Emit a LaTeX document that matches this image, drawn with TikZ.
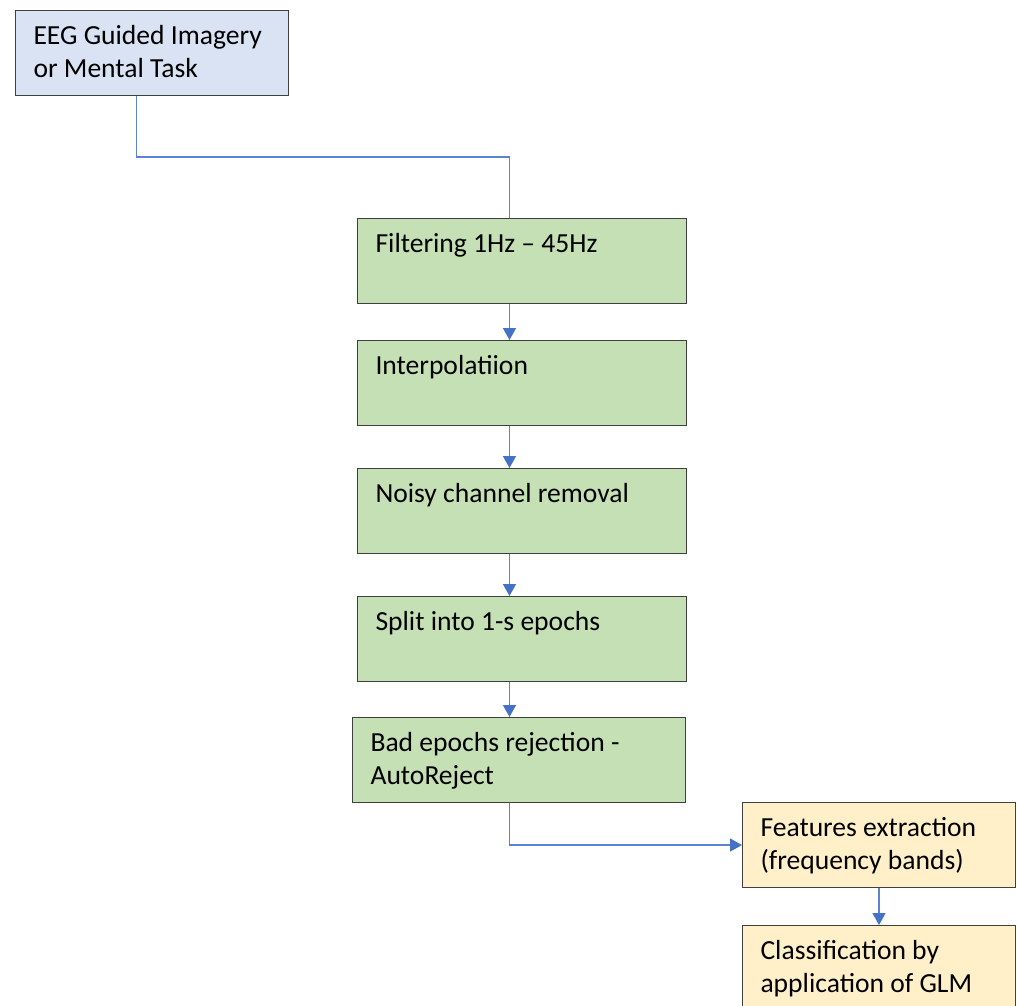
\documentclass[tikz,border=0pt]{standalone}
\usepackage{fontspec}
\setmainfont{Carlito}
\usetikzlibrary{arrows.meta}
\definecolor{boxline}{HTML}{3F3F3F}
\definecolor{inputfill}{HTML}{DAE3F3}
\definecolor{prepfill}{HTML}{C5E0B4}
\definecolor{featfill}{HTML}{FFF0C9}
\definecolor{linkblue}{HTML}{5B84D0}
\definecolor{tipblue}{HTML}{4472C4}
% box text sits at the top of the box
\newcommand{\boxtext}[2]{\parbox[c][1.7cm][t]{#1}{\rule{0pt}{0.68cm}#2}}
\tikzset{
    stagebox/.style={draw=boxline, line width=0.6pt, anchor=north west,
        inner xsep=0.36cm, inner ysep=0pt,
        font=\fontsize{15.7pt}{18.9pt}\selectfont},
    link/.style={draw=linkblue, line width=0.8pt},
    flow/.style={link, -{Triangle[width=0.26cm,length=0.24cm,color=tipblue]}}
}
\begin{document}
\begin{tikzpicture}[x=0.02cm, y=-0.02cm]
    \clip (0,0) rectangle (1017,1005);
    \node[stagebox, fill=inputfill] (eeg)    at (15,10)   {\boxtext{4.74cm}{EEG Guided Imagery\\or Mental Task}};
    \node[stagebox, fill=prepfill]  (filt)   at (357,218) {\boxtext{5.86cm}{Filtering 1Hz -- 45Hz}};
    \node[stagebox, fill=prepfill]  (interp) at (357,340) {\boxtext{5.86cm}{Interpolatiion}};
    \node[stagebox, fill=prepfill]  (noisy)  at (357,468) {\boxtext{5.86cm}{Noisy channel removal}};
    \node[stagebox, fill=prepfill]  (split)  at (357,596) {\boxtext{5.86cm}{Split into 1-s epochs}};
    \node[stagebox, fill=prepfill]  (bad)    at (352,717) {\boxtext{5.94cm}{Bad epochs rejection -\\AutoReject}};
    \node[stagebox, fill=featfill]  (feat)   at (742,802) {\boxtext{4.74cm}{Features extraction\\(frequency bands)}};
    \node[stagebox, fill=featfill]  (clf)    at (742,925) {\boxtext{4.74cm}{Classification by\\application of GLM}};

    \draw[link] ([xshift=-0.31cm]eeg.south) -- ++(0,61) -| ([xshift=-0.25cm]filt.north);
    \draw[flow] ([xshift=-0.25cm]filt.south)   -- ([xshift=-0.25cm]interp.north);
    \draw[flow] ([xshift=-0.25cm]interp.south) -- ([xshift=-0.25cm]noisy.north);
    \draw[flow] ([xshift=-0.25cm]noisy.south)  -- ([xshift=-0.25cm]split.north);
    \draw[flow] ([xshift=-0.25cm]split.south)  -- ([xshift=-0.25cm]split.south |- bad.north);
    \draw[flow] ([xshift=-0.19cm]bad.south) |- (feat.west);
    \draw[flow] (feat.south) -- (clf.north);
\end{tikzpicture}
\end{document}
